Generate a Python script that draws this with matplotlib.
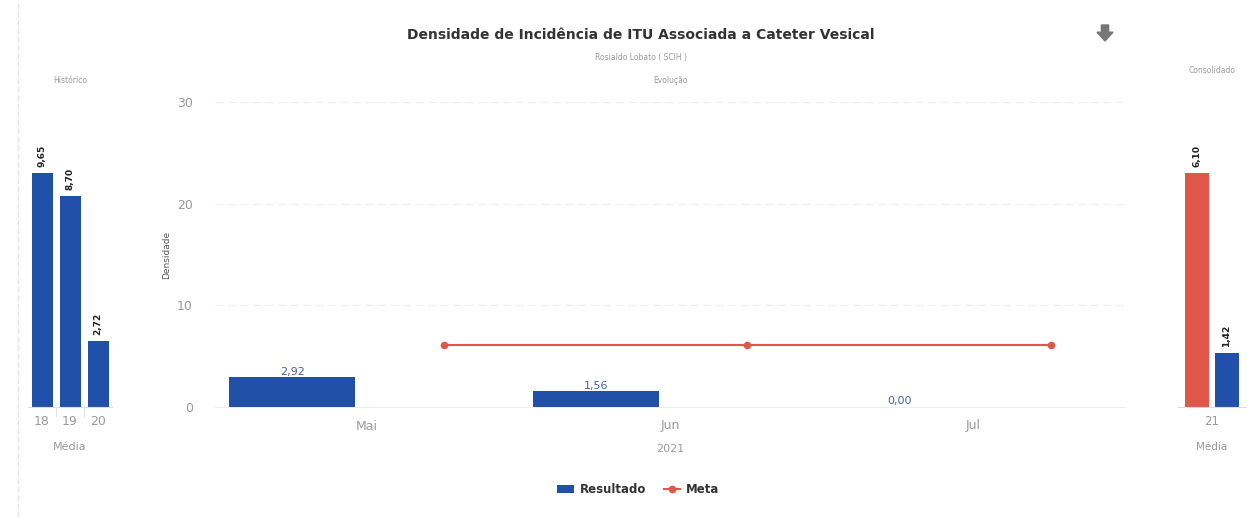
import matplotlib
matplotlib.use("Agg")
import matplotlib.pyplot as plt
from matplotlib.patches import Polygon
import numpy as np

# data
hist_labels = ["18", "19", "20"]
hist_values = [9.65, 8.70, 2.72]
months = ["Mai", "Jun", "Jul"]
resultado = [2.92, 1.56, 0.00]
meta = [6.10, 6.10, 6.10]
cons_label = "21"
cons_meta = 6.10
cons_result = 1.42

blue = "#2150a8"
red = "#e0574a"
gray = "#9a9a9a"

def br(v):
    return ("%.2f" % v).replace(".", ",")

fig = plt.figure(figsize=(12.57, 5.17), dpi=100)

# page border on the left
fig.add_artist(plt.Line2D([0.0145, 0.0145], [0.0, 1.0], color="#e4e4e4", lw=1, ls=(0, (4, 2))))

fig.text(0.51, 0.932, "Densidade de Incidência de ITU Associada a Cateter Vesical",
         ha="center", va="center", fontsize=10, fontweight="bold", color="#333333")
fig.text(0.51, 0.889, "Rosialdo Lobato ( SCIH )", ha="center", va="center",
         fontsize=5.5, color=gray)

# download arrow
cx, cy = 1105 / 1257, 1 - 33 / 517
w = 8 / 1257
h = 8 / 517
arrow = Polygon([[cx - w * 0.45, cy + h], [cx + w * 0.45, cy + h], [cx + w * 0.45, cy + h * 0.1],
                 [cx + w, cy + h * 0.1], [cx, cy - h], [cx - w, cy + h * 0.1],
                 [cx - w * 0.45, cy + h * 0.1]], closed=True, transform=fig.transFigure,
                color="#777777")
fig.add_artist(arrow)

bottom = 1 - 407 / 517
height = (407 - 102) / 517

# Historico panel
axh = fig.add_axes([28 / 1257, bottom, 84 / 1257, height])
xh = np.arange(len(hist_values))
axh.bar(xh, hist_values, width=0.75, color=blue)
for x, v in zip(xh, hist_values):
    axh.text(x, v + 0.25, br(v), rotation=90, ha="center", va="bottom",
             fontsize=6.5, fontweight="bold", color="#222222")
axh.set_xlim(-0.5, 2.5)
axh.set_ylim(0, max(hist_values) / 0.767)
axh.set_xticks(xh)
axh.set_xticklabels(hist_labels, fontsize=9, color=gray)
axh.set_xticks([0.5, 1.5], minor=True)
axh.tick_params(axis="x", which="major", length=0, pad=6)
axh.tick_params(axis="x", which="minor", length=7, color="#dddddd")
axh.set_yticks([])
for sp in ["top", "left", "right"]:
    axh.spines[sp].set_visible(False)
axh.spines["bottom"].set_color("#dddddd")
axh.set_xlabel("Média", fontsize=8, color=gray, labelpad=10)
axh.set_title("Histórico", fontsize=5.5, color=gray, pad=14)

# Evolucao panel
ax = fig.add_axes([215 / 1257, bottom, 910 / 1257, height])
xm = np.arange(len(months))
bars = ax.bar(xm - 0.245, resultado, width=0.415, color=blue, label="Resultado", zorder=3)
for x, v in zip(xm - 0.245, resultado):
    ax.text(x, v + 0.05, br(v), ha="center", va="bottom", fontsize=8, color="#4a5fa0", zorder=4)
line, = ax.plot(xm + 0.255, meta, color=red, lw=1.5, marker="o", ms=4.5, label="Meta", zorder=3)
ax.set_xlim(-0.5, 2.5)
ax.set_ylim(0, 30)
ax.set_yticks([0, 10, 20, 30])
ax.grid(axis="y", color="#f0f0f0", lw=1, ls=(0, (6, 3)))
ax.set_axisbelow(True)
ax.set_xticks(xm)
ax.set_xticklabels(months)
ax.tick_params(axis="both", length=0, labelsize=9, labelcolor=gray)
ax.tick_params(axis="x", pad=9)
ax.tick_params(axis="y", pad=16)
for sp in ["top", "left", "right"]:
    ax.spines[sp].set_visible(False)
ax.spines["bottom"].set_color("#eeeeee")
ax.set_ylabel("Densidade", fontsize=6.5, color="#555555", labelpad=4)
ax.set_xlabel("2021", fontsize=8, color=gray, labelpad=8)
ax.set_title("Evolução", fontsize=5.5, color=gray, pad=14)
leg = ax.legend([bars, line], ["Resultado", "Meta"], loc="upper center",
                bbox_to_anchor=(0.465, -0.215), ncol=2, frameon=False,
                handlelength=1.4, columnspacing=1.5, handletextpad=0.5,
                prop={"family": "DejaVu Sans", "weight": "bold", "size": 8.5})
for t in leg.get_texts():
    t.set_color("#333333")

# Consolidado panel
axc = fig.add_axes([1178 / 1257, bottom, 68 / 1257, height])
axc.bar([-0.22], [cons_meta], width=0.353, color=red)
axc.bar([0.22], [cons_result], width=0.353, color=blue)
for x, v in [(-0.22, cons_meta), (0.22, cons_result)]:
    axc.text(x, v + 0.15, br(v), rotation=90, ha="center", va="bottom",
             fontsize=6.5, fontweight="bold", color="#222222")
axc.set_xlim(-0.5, 0.5)
axc.set_ylim(0, cons_meta / 0.767)
axc.set_xticks([0])
axc.set_xticklabels([cons_label], fontsize=8.5, color=gray)
axc.tick_params(axis="x", which="major", length=0, pad=6)
axc.set_yticks([])
for sp in ["top", "left", "right"]:
    axc.spines[sp].set_visible(False)
axc.spines["bottom"].set_color("#dddddd")
axc.set_xlabel("Média", fontsize=7.5, color=gray, labelpad=10)
axc.set_title("Consolidado", fontsize=5.5, color=gray, pad=21)

fig.savefig("out.png", dpi=100)
